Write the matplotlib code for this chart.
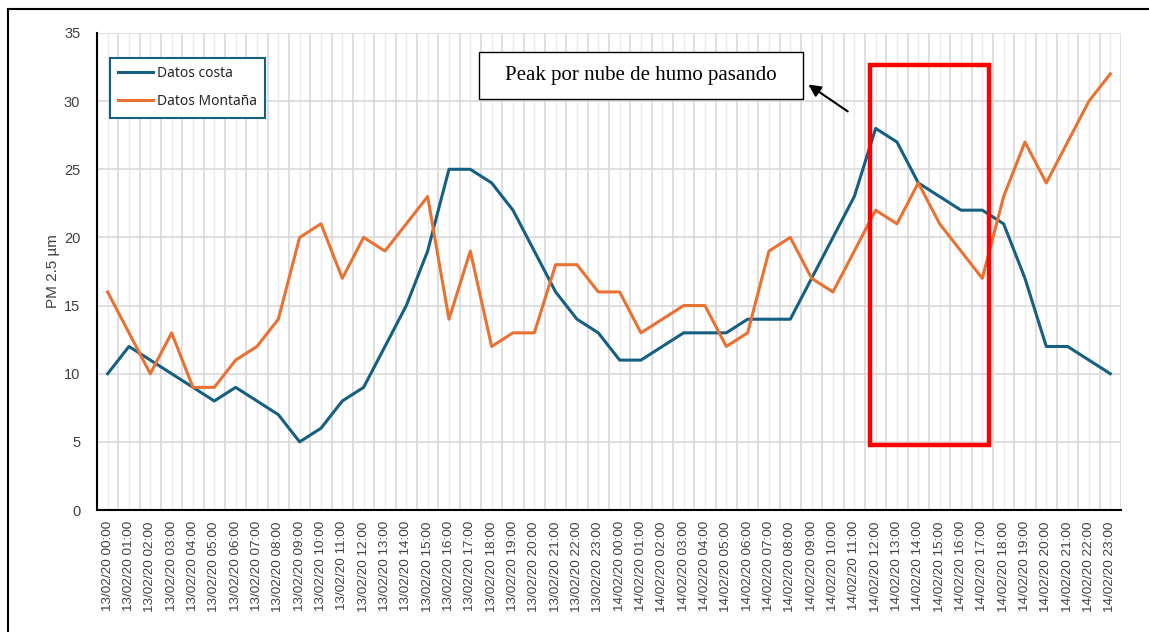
import matplotlib
matplotlib.use("Agg")
import matplotlib.pyplot as plt
import matplotlib.patches as patches
from matplotlib.lines import Line2D

# horas 13/02/20 00:00 .. 14/02/20 23:00
etiquetas = [f"{d}/02/20 {h:02d}:00" for d in (13, 14) for h in range(24)]

costa = [10, 12, 11, 10, 9, 8, 9, 8, 7, 5, 6, 8, 9, 12, 15, 19, 25, 25, 24, 22, 19, 16, 14, 13,
         11, 11, 12, 13, 13, 13, 14, 14, 14, 17, 20, 23, 28, 27, 24, 23, 22, 22, 21, 17, 12, 12, 11, 10]
montana = [16, 13, 10, 13, 9, 9, 11, 12, 14, 20, 21, 17, 20, 19, 21, 23, 14, 19, 12, 13, 13, 18, 18, 16,
           16, 13, 14, 15, 15, 12, 13, 19, 20, 17, 16, 19, 22, 21, 24, 21, 19, 17, 23, 27, 24, 27, 30, 32]

azul = "#156082"
naranja = "#E97132"

plt.rcParams['font.family'] = ['Liberation Sans', 'DejaVu Sans']

fig = plt.figure(figsize=(11.49, 6.32), dpi=100)
ax = fig.add_axes([0.0844, 0.193, 0.8912, 0.7548])

x = list(range(len(etiquetas)))
ax.plot(x, costa, color=azul, lw=2.2, label="Datos costa", zorder=3)
ax.plot(x, montana, color=naranja, lw=2.2, label="Datos Montaña", zorder=3)

ax.set_xlim(-0.5, len(etiquetas) - 0.5)
ax.set_ylim(0, 35)
ax.set_yticks(range(0, 36, 5))
ax.set_xticks(x)
ax.set_xticklabels(etiquetas, rotation=90, fontsize=9.7, color="#404040")
ax.tick_params(axis='x', length=0, pad=8)
ax.tick_params(axis='y', length=0, pad=12, labelsize=10.5, labelcolor="#404040")

# rejilla: líneas en los bordes de cada categoría y en su centro
for i in range(len(etiquetas) + 1):
    ax.axvline(i - 0.5, color="#D9D9D9", lw=1.2, zorder=0)
for i in x:
    ax.axvline(i, color="#EBEBEB", lw=1.0, zorder=0)
for v in range(5, 36, 5):
    ax.axhline(v, color="#D9D9D9", lw=1.2, zorder=0)

for s in ("top", "right"):
    ax.spines[s].set_visible(False)
ax.spines["left"].set_color("black")
ax.spines["bottom"].set_color("black")
ax.spines["left"].set_linewidth(1.5)
ax.spines["bottom"].set_linewidth(1.5)

ax.set_ylabel("PM 2.5 µm", fontsize=11, color="#404040", labelpad=3)

leg = ax.legend(loc="upper left", bbox_to_anchor=(0.0127, 0.948), borderaxespad=0,
                fancybox=False, framealpha=1, edgecolor=azul,
                handlelength=2.5, handletextpad=0.25, labelspacing=0.95,
                borderpad=0.6, prop={'family': ['Noto Sans', 'DejaVu Sans'], 'size': 10})
leg.get_frame().set_linewidth(1.5)
for t in leg.get_texts():
    t.set_color("#262626")

# cuadro de texto con flecha
caja = patches.Rectangle((17.4, 30.15), 15.2, 3.45, fill=True, facecolor="white",
                         edgecolor="black", lw=1.0, zorder=5)
ax.add_patch(caja)
ax.text(17.4 + 7.6, 30.15 + 1.75, "Peak por nube de humo pasando", ha="center", va="center",
        fontsize=15, family="Liberation Serif", zorder=6)
ax.annotate("", xy=(32.74, 31.33), xytext=(34.8, 29.13),
            arrowprops=dict(arrowstyle="-|>", color="black", lw=1.5, mutation_scale=18), zorder=6)

# recuadro rojo sobre el pico
ax.add_patch(patches.Rectangle((35.74, 4.77), 5.58, 27.88, fill=False,
                               edgecolor="#FF0000", lw=3.2, zorder=4))

# marco exterior (solo superior e izquierdo visibles)
fig.add_artist(Line2D([8 / 1149, 1], [1 - 9 / 632, 1 - 9 / 632], color="black", lw=1.5))
fig.add_artist(Line2D([8 / 1149, 8 / 1149], [0, 1 - 9 / 632], color="black", lw=1.5))

fig.savefig("out.png", dpi=100)
